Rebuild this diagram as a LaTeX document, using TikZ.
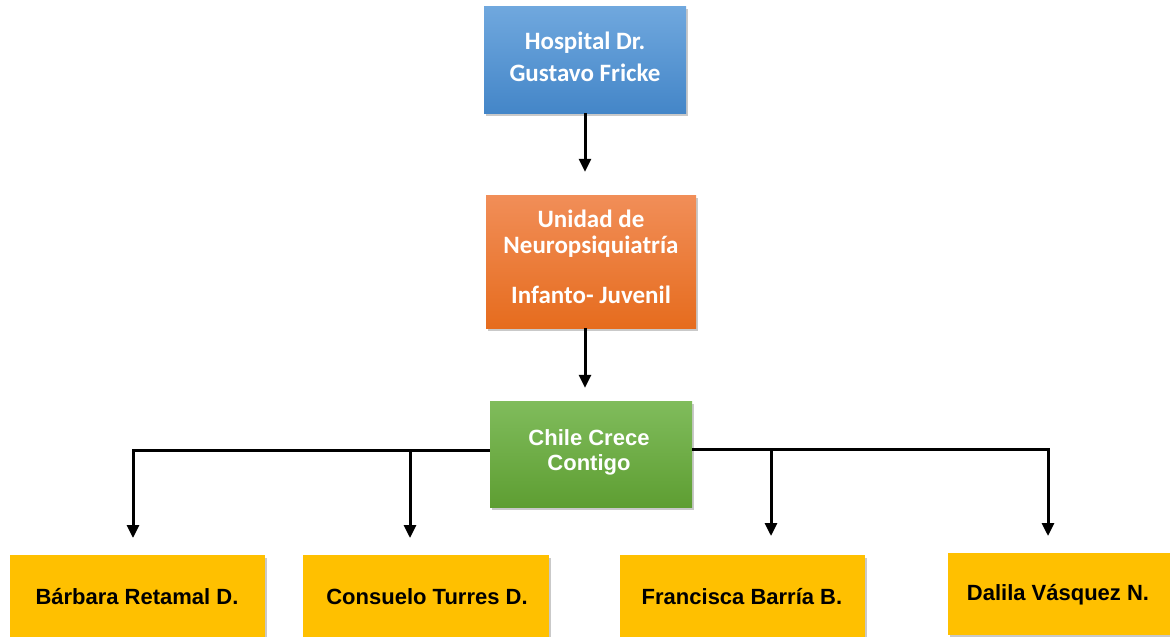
\documentclass[tikz,border=0pt]{standalone}
\usepackage{fontspec}
\setmainfont{Liberation Sans}
\newfontfamily\calib{Carlito}
\usetikzlibrary{arrows.meta,shadows,positioning}
\definecolor{bluetop}{RGB}{112,168,222}
\definecolor{bluebot}{RGB}{68,134,200}
\definecolor{orgtop}{RGB}{241,142,88}
\definecolor{orgbot}{RGB}{230,108,30}
\definecolor{grntop}{RGB}{128,188,92}
\definecolor{grnbot}{RGB}{94,158,50}
\definecolor{yel}{RGB}{255,192,0}
\tikzset{
  boxshadow/.style={drop shadow={shadow xshift=2pt,shadow yshift=-3pt,opacity=0.35,fill=black!60}},
  topbox/.style={rectangle,boxshadow,inner sep=0pt},
  toptext/.style={text=white,font=\calib\bfseries\fontsize{25}{30}\selectfont,align=center,inner sep=0pt},
  personbox/.style={rectangle,boxshadow,fill=yel,minimum height=90pt,inner sep=0pt},
  persontext/.style={text=black,font=\bfseries\fontsize{22}{26}\selectfont,inner sep=0pt},
  conn/.style={line width=3pt,-{Triangle[width=12pt,length=13pt]}}
}
\begin{document}
\begin{tikzpicture}[x=1pt,y=1pt]
\clip (0,0) rectangle (1170,-637);
\fill[white] (0,0) rectangle (1170,-637);
% top box
\node[topbox,top color=bluetop,bottom color=bluebot,minimum width=202pt,minimum height=107pt] (hosp) at (585,-59.5) {};
\node[toptext] (hosp1) at (585,-43) {Hospital Dr.};
\node[toptext] (hosp2) at (585,-73) {Gustavo Fricke};
% middle box
\node[topbox,top color=orgtop,bottom color=orgbot,minimum width=210pt,minimum height=133pt] (unit) at (591,-261.5) {};
\node[toptext] (unit1) at (591,-219) {Unidad de};
\node[toptext] (unit2) at (591,-247) {Neuropsiquiatría};
\node[toptext] (unit3) at (591,-295) {Infanto- Juvenil};
% green box
\node[topbox,top color=grntop,bottom color=grnbot,minimum width=202pt,minimum height=106pt] (chile) at (591,-454) {};
\node[text=white,font=\bfseries\fontsize{22}{27}\selectfont,inner sep=0pt] (chile1) at (589,-438) {Chile Crece};
\node[text=white,font=\bfseries\fontsize{22}{27}\selectfont,inner sep=0pt] (chile2) at (589,-465) {Contigo};
% bottom boxes
\node[personbox,minimum width=255pt,anchor=north west] (b1) at (10,-555) {};
\node[persontext] (b1t) at (137,-597) {Bárbara Retamal D.};
\node[personbox,minimum width=246pt,anchor=north west] (b2) at (303,-555) {};
\node[persontext] (b2t) at (427,-597) {Consuelo Turres D.};
\node[personbox,minimum width=245pt,anchor=north west] (b3) at (620,-555) {};
\node[persontext] (b3t) at (742,-597) {Francisca Barría B.};
\node[personbox,minimum width=235pt,minimum height=82pt,anchor=north west] (b4) at (948,-553) {};
\node[persontext] (b4t) at (1058,-595) {Dalila Vásquez N.};
% connectors
\draw[conn,shorten >=23pt] (hosp.south) -- (hosp.south |- unit.north);
\draw[conn,shorten >=13pt] (hosp.south |- unit.south) -- (hosp.south |- chile.north);
\coordinate (t1) at (133,-538);
\coordinate (t2) at (410,-538);
\coordinate (t3) at (771,-536);
\coordinate (t4) at (1048,-536);
\coordinate (cl) at ([yshift=4pt]chile.west);
\coordinate (cr) at ([yshift=5pt]chile.east);
\draw[conn] (cl) -| (t1);
\draw[conn] (t2 |- cl) -- (t2);
\draw[conn] (cr) -| (t4);
\draw[conn] (t3 |- cr) -- (t3);
\end{tikzpicture}
\end{document}
